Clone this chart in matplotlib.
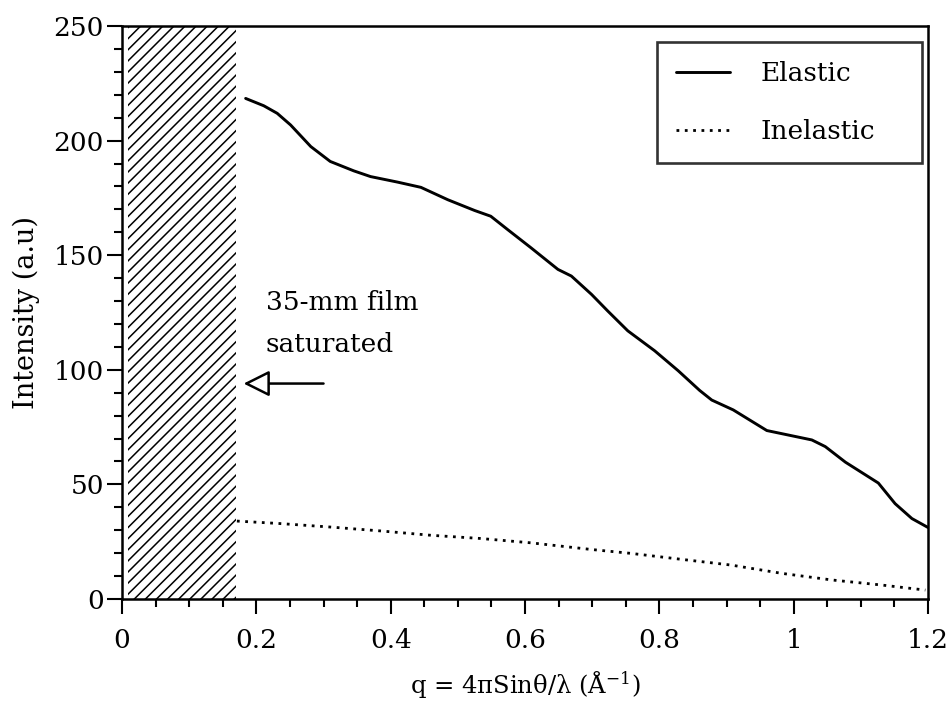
import matplotlib
matplotlib.use("Agg")
import matplotlib.pyplot as plt
from matplotlib.patches import Rectangle
from matplotlib.ticker import MultipleLocator, FixedLocator, FixedFormatter

plt.rcParams['font.family'] = ['DejaVu Serif']
plt.rcParams['mathtext.fontset'] = 'dejavuserif'
plt.rcParams['hatch.linewidth'] = 1.1

# Elastic scattering intensity vs momentum transfer
elastic_q = [0.184, 0.211, 0.231, 0.251, 0.281, 0.310, 0.345, 0.370, 0.410,
             0.445, 0.485, 0.525, 0.549, 0.574, 0.609, 0.649, 0.669, 0.699,
             0.723, 0.753, 0.793, 0.828, 0.860, 0.878, 0.910, 0.960, 1.027,
             1.047, 1.077, 1.126, 1.151, 1.176, 1.200]
elastic_I = [218.4, 215.2, 211.9, 206.8, 197.4, 190.9, 186.8, 184.3, 181.9,
             179.6, 174.2, 169.5, 167.0, 161.2, 153.2, 143.8, 140.9, 132.9,
             125.7, 117.0, 108.3, 99.6, 91.0, 86.8, 82.5, 73.5, 69.4,
             66.5, 59.7, 50.6, 41.6, 35.1, 31.2]

# Inelastic scattering intensity
inelastic_q = [0.171, 0.236, 0.310, 0.385, 0.460, 0.534, 0.609, 0.699, 0.758,
               0.833, 0.907, 0.982, 1.057, 1.131, 1.196]
inelastic_I = [34.0, 32.9, 31.4, 29.7, 27.8, 26.4, 24.5, 21.6, 19.9,
               17.3, 14.8, 11.2, 8.3, 6.1, 3.9]

# Saturated region of the film
saturated_q = [0.009, 0.170]
arrow_I = 94

x_ticks = [0, 0.2, 0.4, 0.6, 0.8, 1.0, 1.2]
x_tick_labels = ['0', '0.2', '0.4', '0.6', '0.8', '1', '1.2']
y_ticks = [0, 50, 100, 150, 200, 250]

fig = plt.figure(figsize=(9.49, 7.16), dpi=100)
ax = fig.add_axes([0.1286, 0.1634, 0.8493, 0.8003])

ax.add_patch(Rectangle((saturated_q[0], 0), saturated_q[1] - saturated_q[0], 250,
                       facecolor='none', edgecolor='black', linewidth=0,
                       hatch='///'))

ax.plot(elastic_q, elastic_I, color='black', lw=2.1, label='Elastic',
        solid_joinstyle='round', solid_capstyle='round')
ax.plot(inelastic_q, inelastic_I, color='black', lw=2.0, dashes=(1, 2),
        label='Inelastic')

ax.annotate('', xy=(saturated_q[1] + 0.011, arrow_I), xytext=(0.300, arrow_I),
            arrowprops=dict(arrowstyle='-|>,head_length=1.6,head_width=0.8',
                            mutation_scale=10, fc='white', ec='black', lw=1.8,
                            shrinkA=0, shrinkB=0))
ax.text(0.214, 120, '35-mm film\nsaturated', fontsize=19, ha='left',
        va='center', linespacing=1.85)

ax.set_xlim(0, 1.2)
ax.set_ylim(0, 250)
ax.xaxis.set_major_locator(FixedLocator(x_ticks))
ax.xaxis.set_major_formatter(FixedFormatter(x_tick_labels))
ax.xaxis.set_minor_locator(MultipleLocator(0.05))
ax.yaxis.set_major_locator(FixedLocator(y_ticks))
ax.yaxis.set_minor_locator(MultipleLocator(10))

ax.tick_params(which='both', direction='out', top=False, right=False,
               width=1.5, labelsize=19)
ax.tick_params(axis='x', which='major', length=11, pad=10)
ax.tick_params(axis='x', which='minor', length=6)
ax.tick_params(axis='y', which='major', length=11, pad=2)
ax.tick_params(axis='y', which='minor', length=6)

for sp in ax.spines.values():
    sp.set_linewidth(1.8)

ax.set_xlabel('q = 4πSinθ/λ (Å$^{-1}$)', fontsize=17.5, labelpad=12)
ax.set_ylabel('Intensity (a.u)', fontsize=19.5, labelpad=10)

leg = ax.legend(loc='upper left', bbox_to_anchor=(0.6638, 0.5, 0.3288, 0.472),
                mode='expand', fontsize=19, frameon=True, fancybox=False,
                edgecolor='black', handlelength=2.05, handletextpad=1.15,
                labelspacing=1.25, borderpad=0.72, borderaxespad=0)
leg.get_frame().set_linewidth(1.9)

fig.savefig('out.png', dpi=100, facecolor='white')
